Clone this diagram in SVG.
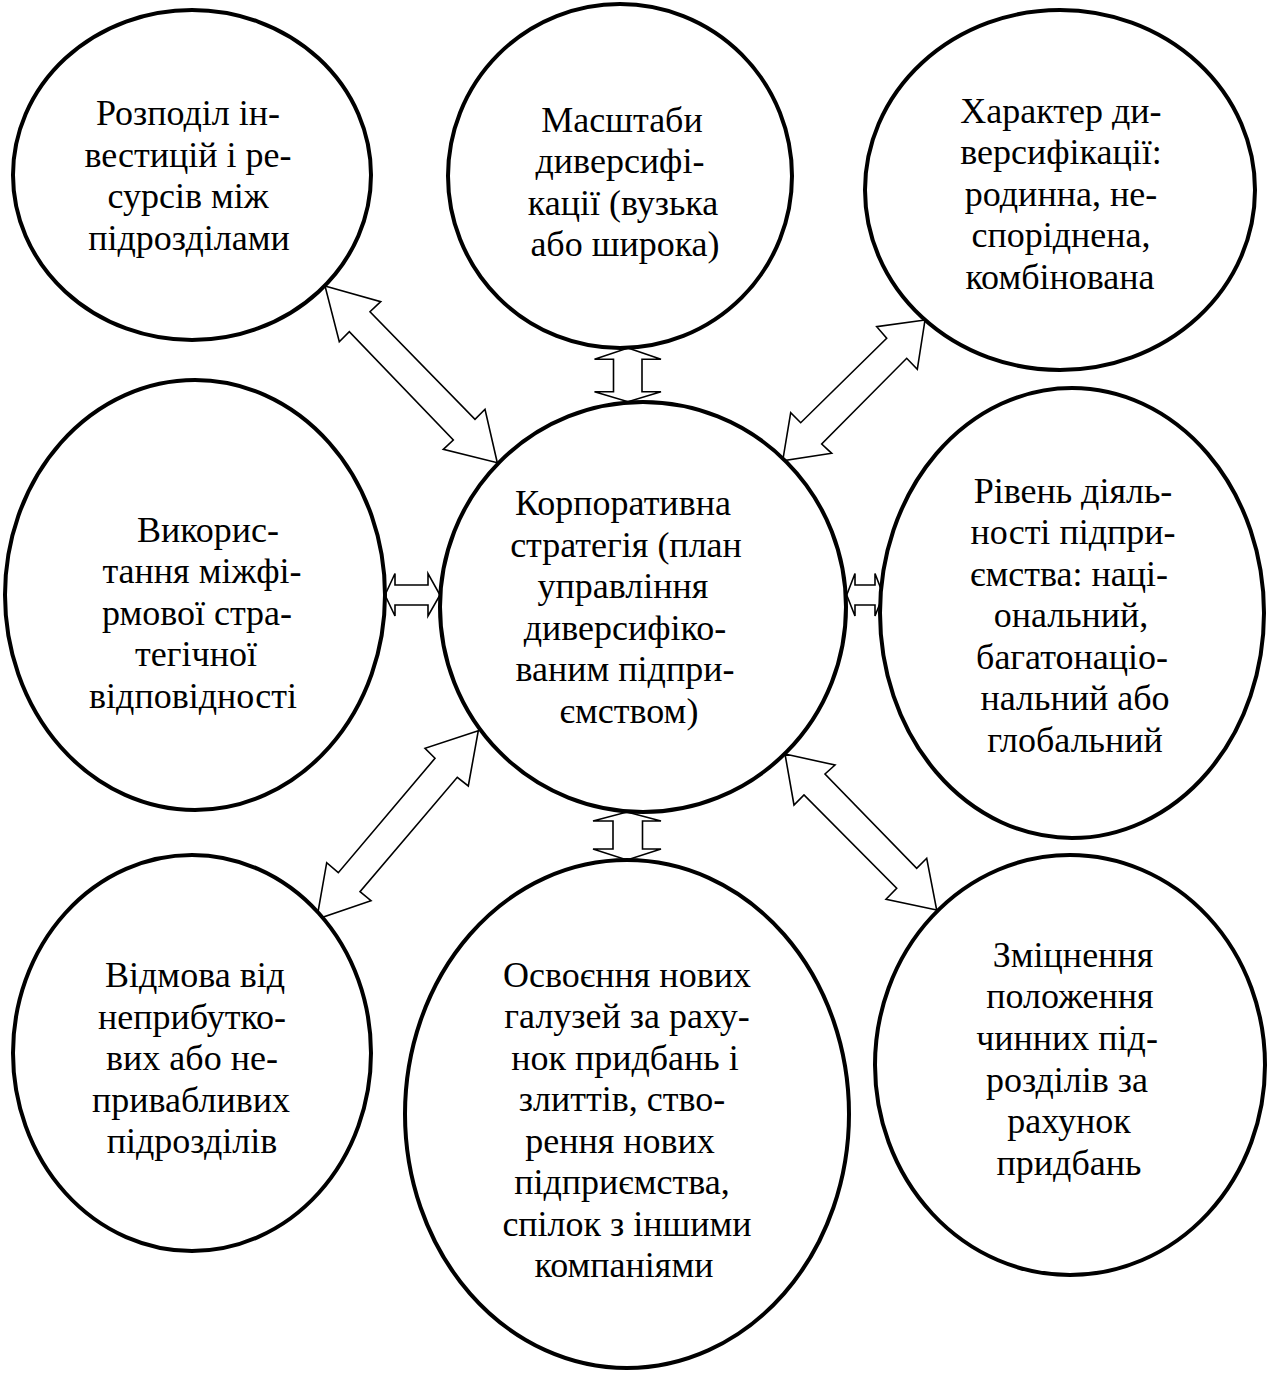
<svg xmlns="http://www.w3.org/2000/svg" width="1269" height="1373" viewBox="0 0 1269 1373">
  <style>
    .node { fill: #ffffff; stroke: #000000; stroke-width: 4; }
    .arrow { fill: #ffffff; stroke: #000000; stroke-width: 1.6; stroke-linejoin: miter; }
    .label { font-family: "Liberation Serif", "Times New Roman", serif; font-size: 36px; fill: #000000; text-anchor: middle; }
  </style>
  <rect x="0" y="0" width="1269" height="1373" fill="#ffffff"/>

  <!-- double-headed block arrows between the central node and the satellites -->
  <g id="connectors">
    <polygon class="arrow" points="325,286 380.7,301.7 370,311.7 475,419.3 485,409.3 497.3,462.7 443.3,449.3 453.3,440 349.3,331.7 339.3,341.7"/>
    <polygon class="arrow" points="628,348 661,359.3 642,359.3 642,391.7 661,391.7 628,401.7 594.5,391.7 613.5,391.7 613.5,359.3 594.5,359.3"/>
    <polygon class="arrow" points="925,320 876.7,326.7 886.7,338.3 800.7,422.7 790.7,412.7 782.7,460.7 831.7,453.3 821.7,444 906.7,358.3 917.3,369.3"/>
    <polygon class="arrow" points="385,595 395,573.5 395,585 428,585 428,573.5 440,595 428,616 428,605 395,605 395,616"/>
    <polygon class="arrow" points="846.7,595 855,573.5 855,585 875,585 875,573.5 883.3,595 875,616 875,605 855,605 855,616"/>
    <polygon class="arrow" points="478.3,730.7 425,748.3 435,758.3 338.3,872.7 326.7,862.7 316.7,919.3 371,900.7 360,891.7 457.3,777.3 468.3,786"/>
    <polygon class="arrow" points="627,812 661,821 642.5,821 642.5,849 661,849 627,860 593,849 613,849 613,821 593,821"/>
    <polygon class="arrow" points="785,754 835,765 825,774 916.7,868.3 926.7,858.3 936.7,910 886,899.3 896.7,888.3 804,795 794,805"/>
  </g>

  <g id="node-allocation">
    <ellipse class="node" cx="192" cy="175" rx="179" ry="165"/>
    <text class="label"><tspan x="188" y="125">Розподіл ін-</tspan><tspan x="188" y="167">вестицій і ре-</tspan><tspan x="188" y="208">сурсів між</tspan><tspan x="189" y="250">підрозділами</tspan></text>
  </g>

  <g id="node-scale">
    <ellipse class="node" cx="620" cy="176" rx="172" ry="172"/>
    <text class="label"><tspan x="622" y="132">Масштаби</tspan><tspan x="620" y="173">диверсифі-</tspan><tspan x="623" y="215">кації (вузька</tspan><tspan x="625" y="256">або широка)</tspan></text>
  </g>

  <g id="node-character">
    <ellipse class="node" cx="1060" cy="190" rx="195" ry="180"/>
    <text class="label"><tspan x="1061" y="123">Характер ди-</tspan><tspan x="1061" y="164">версифікації:</tspan><tspan x="1061" y="206">родинна, не-</tspan><tspan x="1061" y="247">споріднена,</tspan><tspan x="1060" y="289">комбінована</tspan></text>
  </g>

  <g id="node-synergy">
    <ellipse class="node" cx="195" cy="595" rx="190" ry="215"/>
    <text class="label"><tspan x="208" y="542">Викорис-</tspan><tspan x="202" y="583">тання міжфі-</tspan><tspan x="197" y="625">рмової стра-</tspan><tspan x="196" y="666">тегічної</tspan><tspan x="193" y="708">відповідності</tspan></text>
  </g>

  <g id="node-corporate">
    <ellipse class="node" cx="643" cy="607" rx="203" ry="205"/>
    <text class="label"><tspan x="623" y="515">Корпоративна</tspan><tspan x="626" y="557">стратегія (план</tspan><tspan x="623" y="598">управління</tspan><tspan x="625" y="640">диверсифіко-</tspan><tspan x="625" y="681">ваним підпри-</tspan><tspan x="629" y="723">ємством)</tspan></text>
  </g>

  <g id="node-level">
    <ellipse class="node" cx="1072" cy="613" rx="192" ry="225"/>
    <text class="label"><tspan x="1073" y="503">Рівень діяль-</tspan><tspan x="1073" y="544">ності підпри-</tspan><tspan x="1069" y="586">ємства: наці-</tspan><tspan x="1071" y="627">ональний,</tspan><tspan x="1072" y="669">багатонаціо-</tspan><tspan x="1075" y="710">нальний або</tspan><tspan x="1075" y="752">глобальний</tspan></text>
  </g>

  <g id="node-divestment">
    <ellipse class="node" cx="192" cy="1053" rx="179" ry="198"/>
    <text class="label"><tspan x="195" y="987">Відмова від</tspan><tspan x="192" y="1029">неприбутко-</tspan><tspan x="192" y="1070">вих або не-</tspan><tspan x="191" y="1112">привабливих</tspan><tspan x="192" y="1153">підрозділів</tspan></text>
  </g>

  <g id="node-expansion">
    <ellipse class="node" cx="627" cy="1114" rx="222" ry="254"/>
    <text class="label"><tspan x="627" y="987">Освоєння нових</tspan><tspan x="627" y="1028">галузей за раху-</tspan><tspan x="625" y="1070">нок придбань і</tspan><tspan x="622" y="1111">злиттів, ство-</tspan><tspan x="620" y="1153">рення нових</tspan><tspan x="622" y="1194">підприємства,</tspan><tspan x="627" y="1236">спілок з іншими</tspan><tspan x="624" y="1277">компаніями</tspan></text>
  </g>

  <g id="node-strengthening">
    <ellipse class="node" cx="1070" cy="1065" rx="195" ry="210"/>
    <text class="label"><tspan x="1073" y="967">Зміцнення</tspan><tspan x="1070" y="1008">положення</tspan><tspan x="1067" y="1050">чинних під-</tspan><tspan x="1067" y="1092">розділів за</tspan><tspan x="1069" y="1133">рахунок</tspan><tspan x="1069" y="1175">придбань</tspan></text>
  </g>
</svg>
